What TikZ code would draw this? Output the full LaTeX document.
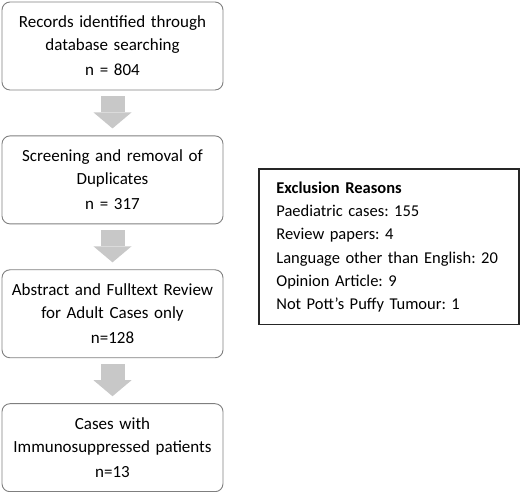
\documentclass[tikz,border=0pt]{standalone}
\usepackage{fontspec}
\setmainfont{Carlito}
\usetikzlibrary{positioning,calc,arrows.meta}
\definecolor{boxgray}{HTML}{7F7F7F}
\definecolor{arrowgray}{HTML}{C8C8C8}
\definecolor{framegray}{HTML}{262626}
\frenchspacing
\begin{document}
\begin{tikzpicture}[
                stagebox/.style={
                  draw=boxgray, line width=0.9pt, rounded corners=8pt,
                  minimum width=221pt, minimum height=88pt,
                  text width=218pt, align=center, inner sep=0pt,
                  font=\fontsize{17}{23}\selectfont
                },
                flowarrow/.style={
                  draw=arrowgray, line width=24pt,
                  -{Triangle[width=38pt,length=16pt,line width=0pt]},
                  shorten <=6pt, shorten >=7pt
                },
                node distance=45pt
                ]
                \useasboundingbox (0,0) rectangle (520pt,492pt);
                % flow boxes, top to bottom
                \node [stagebox] (rec) at (112.5pt,446pt) {Records identified through\\ database searching\\[2pt] n = 804};
                \node [stagebox, below=of rec] (scr) {Screening and removal of\\ Duplicates\\[2pt] n = 317};
                \node [stagebox, below=of scr] (abs) {Abstract and Fulltext Review\\ for Adult Cases only\\[2pt] n=128};
                \node [stagebox, below=of abs] (imm) {Cases with\\ Immunosuppressed patients\\[2pt] n=13};
                % exclusion reasons
                \node [draw=framegray, line width=1.8pt, anchor=west,
                       minimum width=260pt, text width=226pt, align=left,
                       inner xsep=17pt, inner ysep=12pt, text height=12pt,
                       font=\fontsize{16.5}{23.3}\selectfont]
                  (exc) at ($(scr.east)!0.5!(abs.east)+(35pt,0)$)
                  {\textbf{Exclusion Reasons}\\
                   Paediatric cases: 155\\
                   Review papers: 4\\
                   Language other than English: 20\\
                   Opinion Article: 9\\
                   Not Pott’s Puffy Tumour: 1};
                % arrows
                \draw [flowarrow] (rec) -- (scr);
                \draw [flowarrow] (scr) -- (abs);
                \draw [flowarrow] (abs) -- (imm);
\end{tikzpicture}
\end{document}
